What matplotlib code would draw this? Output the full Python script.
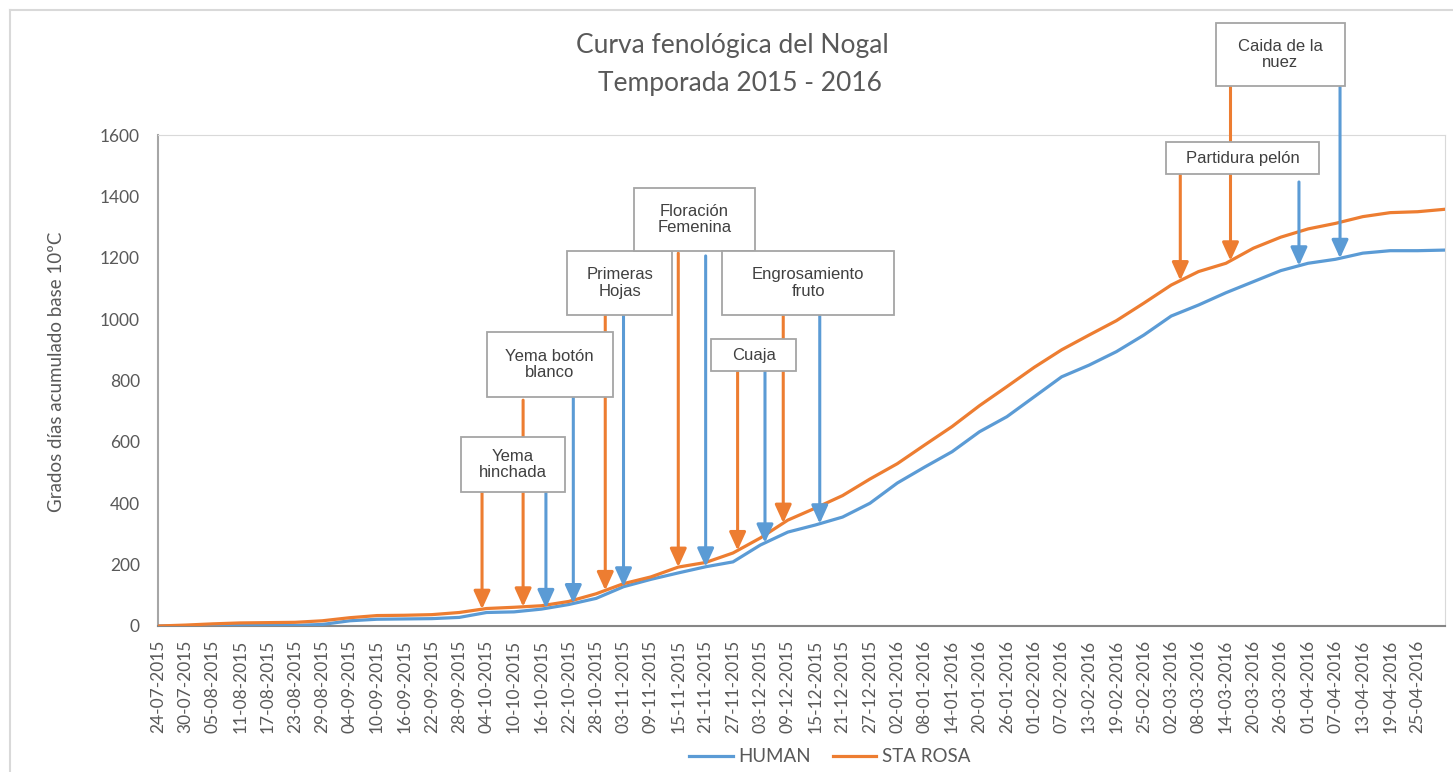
""" Curva fenologica del Nogal - grados dia acumulados, temporada 2015-2016. """

import numpy as np
import pandas as pd
import matplotlib
matplotlib.use('Agg')
import matplotlib.pyplot as plt
from matplotlib.patches import Rectangle


### DATA ###

# Sampled every 6 days starting 24-07-2015
season_start = pd.Timestamp('2015-07-24')
sample_dates = pd.date_range(season_start, periods=48, freq='6D')

human = [0, 1, 2, 3, 2, 2, 5, 17, 22, 23, 24, 28, 44, 46, 55, 70, 90, 128, 152, 173, 193,
    209, 264, 306, 329, 355, 400, 466, 518, 568, 633, 682, 747, 812, 850, 894, 948, 1010,
    1046, 1086, 1122, 1158, 1182, 1195, 1215, 1223, 1223, 1225]

sta_rosa = [0, 3, 7, 10, 11, 12, 17, 27, 34, 35, 37, 44, 57, 61, 66, 80, 105, 138, 160, 192,
    207, 238, 287, 345, 384, 425, 479, 529, 590, 650, 718, 780, 843, 900, 948, 995, 1052,
    1111, 1155, 1182, 1231, 1267, 1294, 1312, 1334, 1347, 1350, 1358]

# Tick labels every 6 days (last sample is not labelled)
tick_dates = pd.date_range(season_start, '2016-04-25', freq='6D')

# Phenological stages and the date they were reached at each site
stage_names = ["Yema\nhinchada", "Yema botón\nblanco", "Primeras\nHojas", "Floración\nFemenina",
    "Cuaja", "Engrosamiento\nfruto", "Partidura pelón", "Caida de la\nnuez"]
stage_sta_rosa = ['2015-10-03', '2015-10-12', '2015-10-30', '2015-11-15', '2015-11-28',
    '2015-12-08', '2016-03-04', '2016-03-15']
stage_human = ['2015-10-17', '2015-10-23', '2015-11-03', '2015-11-21', '2015-12-04',
    '2015-12-16', '2016-03-30', '2016-04-08']

### ###


### LAYOUT ###

# Callout boxes: (x0 day, x1 day, y0, y1) and arrow start heights (orange, blue)
stage_boxes = [(66.3, 89.1, 437, 616), (72.0, 99.6, 746, 958), (89.7, 112.7, 1013, 1222),
    (104.2, 130.9, 1222, 1427), (121.2, 139.8, 831, 935), (123.6, 161.3, 1013, 1222),
    (220.8, 254.5, 1473, 1577), (231.9, 260.0, 1760, 1965)]
arrow_starts = [(437, 437), (736, 746), (1013, 1013), (1215, 1206), (828, 828), (1013, 1013),
    (1470, 1447), (1756, 1756)]

c_blue = '#5B9BD5'
c_orange = '#ED7D31'
txt_color = '#595959'
axis_font = 'Lato'

###


def dayIndex(dates):
    return (pd.to_datetime(dates) - season_start).days


fig = plt.figure(figsize=(14.53, 7.72), dpi=100)
ax = fig.add_axes([158/1453, 1 - 626/772, (1445 - 158)/1453, (626 - 135)/772])

x_data = np.array(dayIndex(sample_dates))

ax.plot(x_data, human, color=c_blue, lw=2.3, label='HUMAN', zorder=3)
ax.plot(x_data, sta_rosa, color=c_orange, lw=2.3, label='STA ROSA', zorder=3)


# Arrows from the callouts down to the curves
for i in range(len(stage_names)):

    for dates, series, col, y_start in [(stage_sta_rosa, sta_rosa, c_orange, arrow_starts[i][0]),
        (stage_human, human, c_blue, arrow_starts[i][1])]:

        d = dayIndex([dates[i]])[0]
        y_tip = np.interp(d, x_data, series)

        ax.annotate('', xy=(d, y_tip), xytext=(d, y_start), annotation_clip=False,
            arrowprops=dict(arrowstyle='-|>,head_length=1.1,head_width=0.5', color=col, lw=2.2,
                mutation_scale=10, shrinkA=0, shrinkB=0), zorder=4)


# Callout boxes
for name, (x0, x1, y0, y1) in zip(stage_names, stage_boxes):

    rect = Rectangle((x0, y0), x1 - x0, y1 - y0, facecolor='white', edgecolor='#a5a5a5', lw=1.3,
        transform=ax.transData, clip_on=False, zorder=6)
    ax.add_patch(rect)

    ax.text((x0 + x1)/2, (y0 + y1)/2, name, ha='center', va='center', fontsize=12,
        family='Liberation Sans', color='#404040', linespacing=1.15, zorder=7, clip_on=False)


### Axes styling ###
ax.set_xlim(0, x_data[-1])
ax.set_ylim(0, 1600)

ax.set_yticks(np.arange(0, 1601, 200))
ax.set_xticks(dayIndex(tick_dates))
ax.set_xticklabels([t.strftime('%d-%m-%Y') for t in tick_dates], rotation=90, va='top')

ax.tick_params(axis='y', length=0, pad=13, labelsize=12.5, labelcolor=txt_color)
ax.tick_params(axis='x', length=0, pad=10, labelsize=12.5, labelcolor=txt_color)
for lbl in ax.get_xticklabels() + ax.get_yticklabels():
    lbl.set_family(axis_font)

ax.spines['top'].set_color('#d9d9d9')
ax.spines['right'].set_color('#d9d9d9')
ax.spines['left'].set_color('#a6a6a6')
ax.spines['bottom'].set_color('#868686')
ax.spines['left'].set_linewidth(1.5)
ax.spines['bottom'].set_linewidth(1.5)

fig.text(57/1453, 1 - 372/772, "Grados días acumulado base 10ºC", rotation=90, ha='center',
    va='center', fontsize=13.5, family=axis_font, color=txt_color)

fig.text(732/1453, 1 - 46/772, "Curva fenológica del Nogal", ha='center', va='center',
    fontsize=19, family=axis_font, color=txt_color)
fig.text(740/1453, 1 - 83/772, "Temporada 2015 - 2016", ha='center', va='center',
    fontsize=19, family=axis_font, color=txt_color)

leg = fig.legend(loc='center', bbox_to_anchor=(830/1453, 1 - 757/772), ncol=2, frameon=False,
    handlelength=2.3, columnspacing=1.2, handletextpad=0.3, prop={'family': axis_font, 'size': 13.5})
for t in leg.get_texts():
    t.set_color(txt_color)

# Outer chart frame
fig.add_artist(plt.Line2D([10/1453, 10/1453], [0, 1 - 10/772], transform=fig.transFigure,
    color='#d9d9d9', lw=1.5))
fig.add_artist(plt.Line2D([10/1453, 1], [1 - 10/772, 1 - 10/772], transform=fig.transFigure,
    color='#d9d9d9', lw=1.5))

plt.savefig('out.png', dpi=100, facecolor='white')
plt.close()
